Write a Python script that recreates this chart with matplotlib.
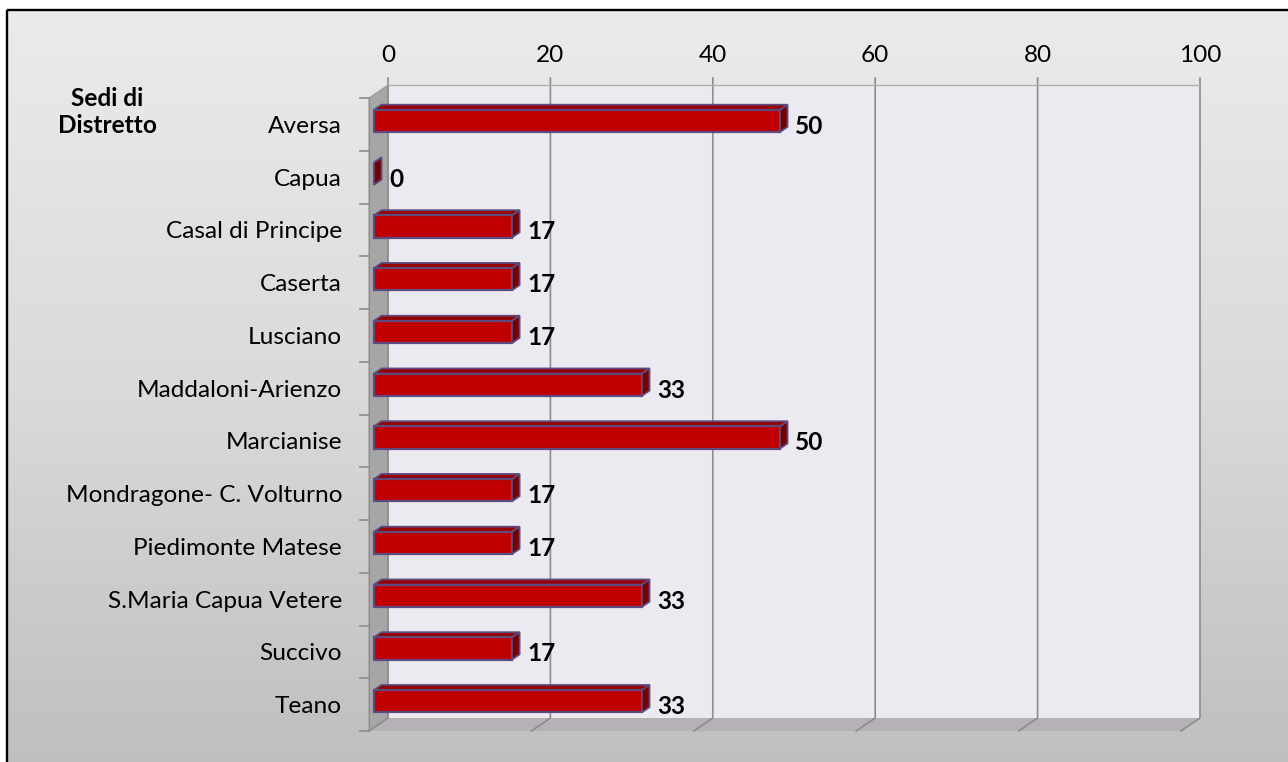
import numpy as np
import matplotlib
from matplotlib import pyplot as plt
from matplotlib.patches import Polygon, Rectangle
from matplotlib.transforms import ScaledTranslation, IdentityTransform

matplotlib.use("Agg")

# Sedi di distretto and their percentages
sedi = [
    "Aversa",
    "Capua",
    "Casal di Principe",
    "Caserta",
    "Lusciano",
    "Maddaloni-Arienzo",
    "Marcianise",
    "Mondragone- C. Volturno",
    "Piedimonte Matese",
    "S.Maria Capua Vetere",
    "Succivo",
    "Teano",
]
percentuali = [50, 0, 17, 17, 17, 33, 50, 17, 17, 33, 17, 33]
x_ticks = [0, 20, 40, 60, 80, 100]

W, H = 1288, 762
DX, DY = 19, 13          # depth of the 3D box in pixels (right, up)
D1, D2 = 0.26, 0.66      # bar front / back depth as fraction of the box
BAR_H = 0.42

plt.rcParams["font.family"] = ["Lato", "DejaVu Sans"]
FS = 17.6
GRID = "#8c8c8c"
EDGE = "#5f4a80"

fig = plt.figure(figsize=(W / 100, H / 100), dpi=100)
fig.patch.set_facecolor("white")

# background panel with vertical gradient and black frame
bg = fig.add_axes([0, 0, 1, 1], zorder=-5)
grad = np.linspace(0, 1, 256)[:, None]
bg.imshow(grad, cmap=matplotlib.colors.LinearSegmentedColormap.from_list(
    "panel", ["#ebebeb", "#dadada", "#bfbfbf"]),
    extent=[7, W + 5, H + 5, 10], aspect="auto", interpolation="bicubic")
bg.add_patch(Rectangle((7, 10), W, H, fill=False, edgecolor="black", lw=1.7))
bg.set_xlim(0, W)
bg.set_ylim(H, 0)
bg.axis("off")

# front plane of the 3D plot area
ax = fig.add_axes([369 / W, (H - 731) / H, 812 / W, 633 / H])
n = len(sedi)
ax.set_xlim(0, 100)
ax.set_ylim(n - 0.5, -0.5)
ax.axis("off")


def shifted(d):
    return ax.transData + ScaledTranslation(d * DX / 100, d * DY / 100, fig.dpi_scale_trans)


def px(x, y, d):
    p = ax.transData.transform((x, y))
    return (p[0] + d * DX, p[1] + d * DY)


def poly(points, **kw):
    p = Polygon(points, closed=True, transform=IdentityTransform(), clip_on=False, **kw)
    ax.add_patch(p)
    return p


def seg(xs, ys, **kw):
    ax.plot(xs, ys, transform=IdentityTransform(), clip_on=False, **kw)


y0, y1 = -0.5, n - 0.5
# back wall
poly([px(0, y0, 1), px(100, y0, 1), px(100, y1, 1), px(0, y1, 1)],
     facecolor="#eceaf1", edgecolor="none", zorder=0)
# left side wall
poly([px(0, y0, 0), px(0, y0, 1), px(0, y1, 1), px(0, y1, 0)],
     facecolor="#a6a6a6", edgecolor="#9a9a9a", lw=0.8, zorder=0.5)
# floor
poly([px(0, y1, 0), px(0, y1, 1), px(100, y1, 1), px(100, y1, 0)],
     facecolor="#b6b1b7", edgecolor="none", zorder=0.5)

# gridlines on back wall and floor, top axis labels
for v in x_ticks:
    a, b = px(v, y0, 1), px(v, y1, 1)
    c = px(v, y1, 0)
    seg([a[0], b[0], c[0]], [a[1] + 7, b[1], c[1]], color=GRID, lw=1.2, zorder=1)
    ax.annotate(str(v), xy=(v, y0), xycoords=shifted(1), xytext=(0, 30),
                textcoords="offset pixels", ha="center", va="center",
                fontsize=FS, color="black")
a, b = px(0, y0, 1), px(100, y0, 1)
seg([a[0], b[0]], [a[1], b[1]], color="#b0b0b0", lw=1.0, zorder=1)

# category ticks on the front left edge
a, b = px(0, y0, 0), px(0, y1, 0)
seg([a[0], b[0]], [a[1], b[1]], color=GRID, lw=0.8, zorder=1)
for k in range(n + 1):
    p = px(0, k - 0.5, 0)
    seg([p[0] - 9, p[0]], [p[1], p[1]], color=GRID, lw=1.2, zorder=1)

ypos = np.arange(n)
# bar front faces
ax.barh(ypos, percentuali, height=BAR_H, left=0, color="#c00000",
        edgecolor=EDGE, linewidth=1.6, transform=shifted(D1),
        clip_on=False, zorder=3)
ax.set_xlim(0, 100)
ax.set_ylim(n - 0.5, -0.5)

for i, v in enumerate(percentuali):
    top, bot = i - BAR_H / 2, i + BAR_H / 2
    # top face
    poly([px(0, top, D1), px(v, top, D1), px(v, top, D2), px(0, top, D2)],
         facecolor="#960000", edgecolor=EDGE, lw=1.3, zorder=2.9)
    # right side face
    poly([px(v, top, D1), px(v, bot, D1), px(v, bot, D2), px(v, top, D2)],
         facecolor="#760000", edgecolor=EDGE, lw=1.3, zorder=3.1)
    ax.annotate(str(v), xy=(v, i), xytext=(20, -2), textcoords="offset pixels",
                ha="left", va="center", fontsize=FS, fontweight="bold",
                color="black", zorder=4)
    ax.annotate(sedi[i], xy=(0, i), xytext=(-27, -2), textcoords="offset pixels",
                ha="right", va="center", fontsize=FS, color="black")

fig.text(107 / W, 1 - 112 / H, "Sedi di\nDistretto", ha="center", va="center",
         fontsize=FS, fontweight="bold", linespacing=1.2)

fig.savefig("out.png", dpi=100)
plt.close(fig)
